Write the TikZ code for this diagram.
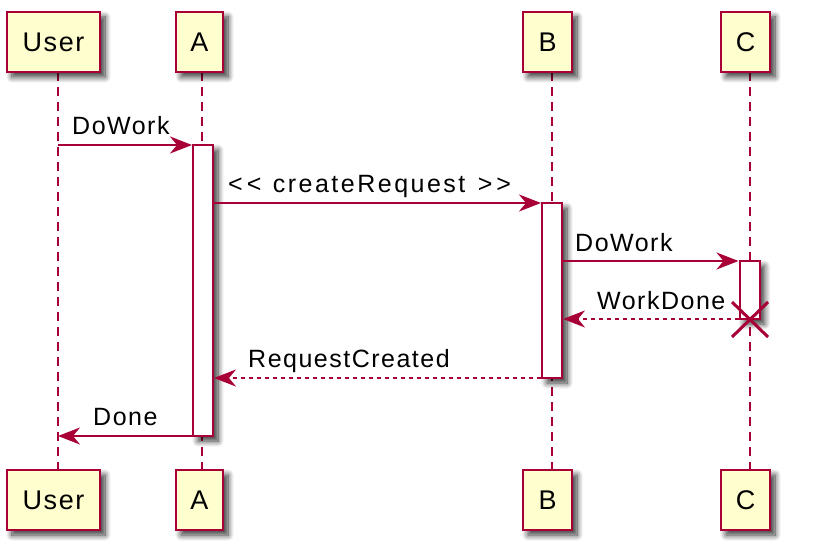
\documentclass[tikz,border=0pt]{standalone}
\usepackage{fontspec}
\setmainfont{Liberation Sans}
\newfontfamily\lsfont[LetterSpace=6]{Liberation Sans}
\usetikzlibrary{arrows.meta,shadows.blur}
\definecolor{pborder}{HTML}{A80036}
\definecolor{pfill}{HTML}{FEFECE}
\tikzset{
  shad/.style={blur shadow={shadow xshift=5pt, shadow yshift=-5pt, shadow blur steps=10, shadow blur radius=6pt, shadow opacity=80}},
  part/.style={draw=pborder, line width=2.6pt, fill=pfill, minimum height=60pt, inner sep=0pt, font=\lsfont\fontsize{27}{30}\selectfont, shad},
  act/.style={draw=pborder, line width=2pt, fill=white, minimum width=20pt, inner sep=0pt, shad},
  life/.style={draw=pborder, line width=2pt, dash pattern=on 9pt off 6pt},
  msg/.style={draw=pborder, line width=2pt, -{Stealth[length=22pt, width=17pt, inset=7pt]}},
  ret/.style={msg, dash pattern=on 4pt off 4pt},
  lbl/.style={anchor=base west, inner sep=0pt, font=\lsfont\fontsize{25}{28}\selectfont},
  cross/.style={draw=pborder, line width=3pt}
}
\begin{document}
\begin{tikzpicture}[x=1pt,y=-1pt]
\useasboundingbox (0,0) rectangle (818,556);
% lifelines
\coordinate (uTop) at (58,72);   \coordinate (uBot) at (58,470);
\coordinate (aTop) at (202,72);  \coordinate (aBot) at (202,470);
\coordinate (bTop) at (552,72);  \coordinate (bBot) at (552,470);
\coordinate (cTop) at (750,72);  \coordinate (cBot) at (750,470);
\draw[life] (uTop) -- (uBot);
\draw[life] (aTop) -- (aBot);
\draw[life] (bTop) -- (bBot);
\draw[life] (cTop) -- (cBot);
% participants
\node[part, minimum width=93pt] (uT) at (53.5,42) {User};
\node[part, minimum width=47pt] (aT) at (199.5,42) {A};
\node[part, minimum width=49pt] (bT) at (547.5,42) {B};
\node[part, minimum width=49pt] (cT) at (745.5,42) {C};
\node[part, minimum width=93pt] (uB) at (53.5,500) {User};
\node[part, minimum width=47pt] (aB) at (199.5,500) {A};
\node[part, minimum width=49pt] (bB) at (547.5,500) {B};
\node[part, minimum width=49pt] (cB) at (745.5,500) {C};
% activations
\node[act, minimum height=291pt] (actA) at (203,290.5) {};
\node[act, minimum height=175pt] (actB) at (552,290.5) {};
\node[act, minimum height=58pt] (actC) at (749.5,290) {};
% messages
\coordinate (m1) at (58,145);
\draw[msg] (m1) -- (m1 -| actA.west);
\node[lbl] (l1) at (72,135) {DoWork};
\coordinate (m2) at (203,203);
\draw[msg] (m2 -| actA.east) -- (m2 -| actB.west);
\node[lbl] (l2) at (228,193) {{<}\kern4pt{<}\hspace{3pt} {\addfontfeature{LetterSpace=10}createRequest}\hspace{4pt} {>}\kern4pt{>}};
\coordinate (m3) at (552,261);
\draw[msg] (m3 -| actB.east) -- (m3 -| actC.west);
\node[lbl] (l3) at (575,251) {DoWork};
\coordinate (m4) at (750,319);
\draw[ret] (m4 -| actC.west) -- (m4 -| actB.east);
\node[lbl] (l4) at (597,309) {WorkDone};
\draw[cross] ($(m4)+(-18,-17)$) -- ($(m4)+(18,18)$);
\draw[cross] ($(m4)+(-18,18)$) -- ($(m4)+(18,-17)$);
\coordinate (m5) at (552,378);
\draw[ret] (m5 -| actB.west) -- (m5 -| actA.east);
\node[lbl] (l5) at (248,367) {RequestCreated};
\coordinate (m6) at (58,436);
\draw[msg] (m6 -| actA.west) -- (m6);
\node[lbl] (l6) at (93,425) {Done};
\end{tikzpicture}
\end{document}
